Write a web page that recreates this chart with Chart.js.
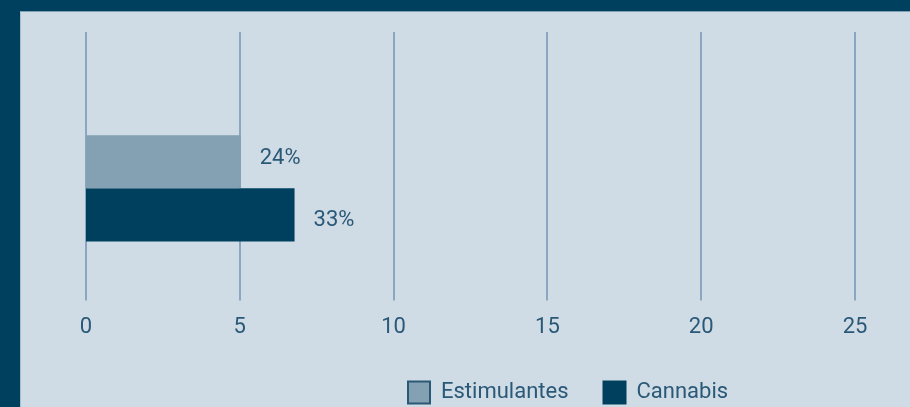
<!DOCTYPE html>
<html>
<head>
<meta charset="utf-8">
<script src="https://cdn.jsdelivr.net/npm/chart.js@4.4.1/dist/chart.umd.min.js"></script>
<style>
html, body { margin: 0; padding: 0; }
body { width: 910px; height: 407px; background: #00405f; position: relative; overflow: hidden; }
#painel { position: absolute; left: 20px; top: 11px; right: 0; bottom: 0; background: #d0dce5; border-top: 1px solid #7f9fb3; border-left: 1px solid #a9bfcd; }
#caixa { position: absolute; left: 0; top: 0; width: 910px; height: 407px; }
</style>
</head>
<body>
<div id="painel"></div>
<div id="caixa"><canvas id="grafico"></canvas></div>
<script>
// dados
const categorias = ['Consumo'];
const nomesSeries = ['Estimulantes', 'Cannabis'];
const valoresEstimulantes = [5.03];
const valoresCannabis = [6.78];
const rotulos = ['24%', '33%'];
const ticksX = [0, 5, 10, 15, 20, 25];

const corTexto = '#2a5877';
const corGrade = '#8aa6c0';
const fonte = 'Roboto, "DejaVu Sans Condensed", sans-serif';

// rotulos ao lado das barras
const pluginRotulos = {
    id: 'rotulos',
    afterDatasetsDraw(chart) {
        const ctx = chart.ctx;
        const desloc = [-3, 6];
        ctx.save();
        ctx.font = '22px ' + fonte;
        ctx.fillStyle = corTexto;
        ctx.textBaseline = 'middle';
        ctx.textAlign = 'left';
        chart.data.datasets.forEach((ds, i) => {
            chart.getDatasetMeta(i).data.forEach(bar => {
                ctx.fillText(rotulos[i], bar.x + 19, bar.y + desloc[i]);
            });
        });
        ctx.restore();
    }
};

// posiciona a legenda (o plugin recorta a area dela)
const pluginLegenda = {
    id: 'posLegenda',
    afterLayout(chart) {
        const lg = chart.legend;
        const pad = lg.options.labels.padding;
        lg.left = 408 - pad;
        lg.right = chart.width;
        lg.top = 381.5 - pad;
        lg.bottom = chart.height;
        lg.width = lg.right - lg.left;
        lg.height = lg.bottom - lg.top;
    }
};

function setTicks(scale) {
    scale.ticks = ticksX.map(v => ({ value: v }));
}

let ctx = document.getElementById('grafico');

let grafico = new Chart(ctx, {
    type: 'bar',
    data: {
        labels: categorias,
        datasets: [{
            label: nomesSeries[0],
            data: valoresEstimulantes,
            backgroundColor: '#83a1b2',
            borderWidth: 0,
            xAxisID: 'x'
        }, {
            label: nomesSeries[1],
            data: valoresCannabis,
            backgroundColor: '#00405f',
            borderWidth: 0,
            xAxisID: 'x'
        }]
    },
    options: {
        indexAxis: 'y',
        responsive: true,
        maintainAspectRatio: false,
        animation: false,
        categoryPercentage: 0.473,
        barPercentage: 1,
        layout: {
            padding: { left: 86, right: 55, top: 32, bottom: 20 }
        },
        scales: {
            xTopo: {
                type: 'linear',
                position: 'top',
                min: 0,
                max: 25,
                afterBuildTicks: setTicks,
                grid: { color: corGrade, lineWidth: 2, tickLength: 44, drawTicks: true },
                border: { display: false },
                ticks: { display: false }
            },
            x: {
                type: 'linear',
                position: 'bottom',
                min: 0,
                max: 25,
                afterBuildTicks: setTicks,
                grid: { display: false },
                border: { display: false },
                ticks: {
                    color: corTexto,
                    padding: 6,
                    font: { family: fonte, size: 22 }
                }
            },
            y: {
                display: false
            }
        },
        plugins: {
            legend: {
                position: 'bottom',
                align: 'start',
                maxHeight: 40,
                labels: {
                    color: corTexto,
                    boxWidth: 22,
                    boxHeight: 22,
                    padding: 35,
                    font: { family: fonte, size: 22 },
                    generateLabels(chart) {
                        const itens = Chart.defaults.plugins.legend.labels.generateLabels(chart);
                        itens.forEach((it, i) => {
                            it.lineWidth = 2;
                            it.strokeStyle = i === 0 ? '#2a5877' : '#00405f';
                        });
                        return itens;
                    }
                }
            },
            tooltip: { enabled: false }
        }
    },
    plugins: [pluginRotulos, pluginLegenda]
});
</script>
</body>
</html>
